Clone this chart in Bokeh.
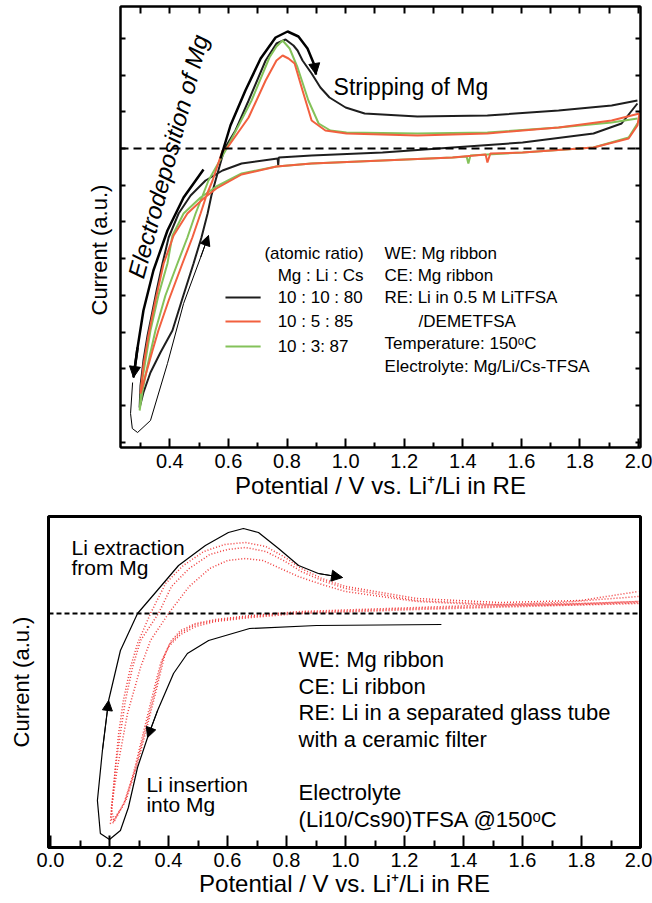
import math
from bokeh.plotting import figure
from bokeh.models import Range1d, LinearAxis, FixedTicker, Span, Arrow, NormalHead, Label, Title
from bokeh.embed import file_html
from bokeh.resources import INLINE

FONT = "Liberation Sans"

# ---------------- top panel data (potential V, current a.u.) ----------------
top_x_ticks = [0.4, 0.6, 0.8, 1.0, 1.2, 1.4, 1.6, 1.8, 2.0]
top_x_labels = ["0.4", "0.6", "0.8", "1.0", "1.2", "1.4", "1.6", "1.8", "2.0"]
top_x_minor = [0.3, 0.5, 0.7, 0.9, 1.1, 1.3, 1.5, 1.7, 1.9]
top_x_all = [0.3, 0.4, 0.5, 0.6, 0.7, 0.8, 0.9, 1.0, 1.1, 1.2, 1.3, 1.4, 1.5, 1.6, 1.7, 1.8, 1.9, 2.0]
top_y_ticks = [1.10, 0.73, 0.37, 0.0, -0.37, -0.73, -1.10, -1.47, -1.84, -2.20, -2.57, -2.94]

black_v = [1.996, 1.942, 1.846, 1.604, 1.365, 1.126, 0.884, 0.772, 0.770, 0.768, 0.645, 0.580, 0.522,
           0.471, 0.430, 0.396, 0.375, 0.355, 0.338, 0.324, 0.310, 0.300, 0.297,
           0.310, 0.334, 0.368, 0.409, 0.443, 0.481, 0.508, 0.529, 0.542, 0.556, 0.587, 0.624, 0.669,
           0.727, 0.764, 0.795, 0.822, 0.836, 0.853, 0.884, 0.914, 0.945, 1.000, 1.065, 1.245, 1.484,
           1.727, 1.908, 1.996]
black_i = [0.45, 0.25, 0.15, 0.06, 0.01, -0.04, -0.07, -0.09, -0.17, -0.10, -0.15, -0.22, -0.32,
           -0.47, -0.65, -0.89, -1.15, -1.42, -1.67, -1.87, -2.12, -2.37, -2.59,
           -2.44, -2.24, -2.04, -1.82, -1.50, -1.15, -0.89, -0.65, -0.47, -0.32, 0.00, 0.18, 0.48,
           0.88, 1.05, 1.09, 1.03, 0.98, 0.88, 0.75, 0.61, 0.51, 0.41, 0.35, 0.32, 0.33,
           0.38, 0.43, 0.48]

green_v = [1.996, 1.966, 1.846, 1.604, 1.484, 1.426, 1.419, 1.413, 1.365, 1.126, 0.884, 0.764, 0.645,
           0.559, 0.505, 0.447, 0.409, 0.392, 0.361, 0.334, 0.317, 0.303, 0.297,
           0.307, 0.324, 0.351, 0.385, 0.426, 0.460, 0.488, 0.512, 0.532, 0.594, 0.679, 0.740, 0.764,
           0.785, 0.809, 0.836, 0.873, 0.908, 0.948, 1.003, 1.245, 1.484, 1.727, 1.908, 1.996]
green_i = [0.25, 0.11, 0.01, -0.04, -0.06, -0.07, -0.15, -0.08, -0.09, -0.12, -0.15, -0.18, -0.25,
           -0.38, -0.49, -0.65, -0.87, -1.15, -1.47, -1.82, -2.12, -2.37, -2.62,
           -2.42, -2.17, -1.82, -1.47, -1.15, -0.89, -0.65, -0.47, -0.32, 0.00, 0.48, 0.91, 1.02,
           1.08, 1.00, 0.81, 0.48, 0.25, 0.18, 0.16, 0.15, 0.16, 0.21, 0.26, 0.30]

red_v = [2.003, 1.996, 1.966, 1.846, 1.604, 1.494, 1.484, 1.478, 1.365, 1.126, 0.884, 0.764, 0.645,
         0.559, 0.515, 0.460, 0.413, 0.379, 0.351, 0.327, 0.310, 0.300,
         0.317, 0.341, 0.361, 0.396, 0.443, 0.477, 0.505, 0.525, 0.546, 0.580, 0.597, 0.669, 0.727,
         0.764, 0.785, 0.805, 0.826, 0.853, 0.884, 0.931, 1.003, 1.245, 1.484, 1.727, 1.908, 2.003]
red_i = [0.35, 0.23, 0.10, 0.01, -0.04, -0.05, -0.14, -0.06, -0.09, -0.12, -0.15, -0.18, -0.26,
         -0.40, -0.50, -0.65, -0.87, -1.15, -1.52, -1.87, -2.17, -2.45,
         -2.27, -2.02, -1.82, -1.52, -1.15, -0.89, -0.65, -0.47, -0.32, -0.02, 0.01, 0.31, 0.68,
         0.88, 0.93, 0.90, 0.85, 0.58, 0.28, 0.18, 0.15, 0.13, 0.15, 0.21, 0.28, 0.35]

series_names = ["10 : 10 : 80", "10 : 5 : 85", "10 : 3: 87"]
series_colors = ["#1e1e1e", "#f2603f", "#84c25a"]

# annotation paths (top)
strip_v = [0.573, 0.607, 0.658, 0.710, 0.761, 0.802, 0.839, 0.870, 0.894, 0.899]
strip_i = [-0.10, 0.23, 0.58, 0.90, 1.11, 1.17, 1.12, 1.00, 0.83, 0.74]
depo_v = [0.515, 0.447, 0.392, 0.344, 0.310, 0.290, 0.276]
depo_i = [-0.21, -0.49, -0.82, -1.22, -1.62, -1.99, -2.29]
loop_v = [0.273, 0.266, 0.272, 0.290, 0.334, 0.392, 0.447, 0.505, 0.532]
loop_i = [-2.34, -2.65, -2.80, -2.84, -2.72, -2.15, -1.55, -1.09, -0.87]

# ---------------- bottom panel data ----------------
bot_x_ticks = [0.0, 0.2, 0.4, 0.6, 0.8, 1.0, 1.2, 1.4, 1.6, 1.8, 2.0]
bot_x_labels = ["0.0", "0.2", "0.4", "0.6", "0.8", "1.0", "1.2", "1.4", "1.6", "1.8", "2.0"]
bot_x_minor = [0.1, 0.3, 0.5, 0.7, 0.9, 1.1, 1.3, 1.5, 1.7, 1.9]

cyc1_v = [1.993, 1.729, 1.241, 0.847, 0.678, 0.559, 0.492, 0.441, 0.410, 0.387, 0.360, 0.330, 0.295, 0.258, 0.214,
          0.203, 0.210, 0.220, 0.231, 0.247, 0.271, 0.295, 0.339, 0.390, 0.450, 0.520, 0.590, 0.661, 0.730,
          0.790, 0.850, 0.920, 1.000, 1.241, 1.525, 1.797, 1.993]
cyc1_i = [0.17, 0.11, 0.06, 0.02, -0.02, -0.06, -0.10, -0.17, -0.27, -0.42, -0.75, -1.10, -1.50, -1.85, -2.09,
          -2.10, -1.87, -1.54, -1.20, -0.87, -0.54, -0.30, 0.00, 0.30, 0.48, 0.62, 0.69, 0.71, 0.67,
          0.57, 0.45, 0.35, 0.27, 0.15, 0.11, 0.13, 0.22]
cyc2_v = [1.993, 1.729, 1.241, 0.847, 0.678, 0.559, 0.492, 0.441, 0.405, 0.380, 0.352, 0.322, 0.288, 0.252, 0.214,
          0.204, 0.220, 0.237, 0.254, 0.278, 0.305, 0.366, 0.410, 0.470, 0.540, 0.600, 0.661, 0.730, 0.790,
          0.850, 0.920, 1.000, 1.241, 1.525, 1.797, 1.993]
cyc2_i = [0.12, 0.09, 0.05, 0.01, -0.03, -0.07, -0.11, -0.19, -0.30, -0.46, -0.80, -1.15, -1.55, -1.88, -2.08,
          -2.05, -1.54, -1.20, -0.87, -0.54, -0.27, 0.00, 0.27, 0.45, 0.59, 0.64, 0.66, 0.62, 0.53,
          0.42, 0.33, 0.25, 0.13, 0.09, 0.10, 0.12]
cyc3_v = [1.993, 1.729, 1.241, 0.847, 0.678, 0.559, 0.492, 0.441, 0.400, 0.373, 0.343, 0.314, 0.281, 0.247, 0.214,
          0.206, 0.227, 0.261, 0.305, 0.339, 0.400, 0.470, 0.540, 0.600, 0.661, 0.720, 0.780, 0.840, 0.920,
          1.000, 1.241, 1.525, 1.797, 1.993]
cyc3_i = [0.10, 0.08, 0.04, 0.00, -0.04, -0.08, -0.13, -0.21, -0.33, -0.50, -0.85, -1.20, -1.60, -1.92, -2.06,
          -1.95, -1.54, -1.00, -0.54, -0.27, 0.00, 0.27, 0.45, 0.53, 0.55, 0.53, 0.45, 0.37, 0.29,
          0.22, 0.12, 0.08, 0.09, 0.11]

bloop_v = [1.325, 1.119, 0.902, 0.675, 0.536, 0.464, 0.417, 0.363, 0.329, 0.295, 0.264, 0.237, 0.200, 0.169,
           0.159, 0.176, 0.197, 0.237, 0.295, 0.356, 0.434, 0.525, 0.603, 0.654, 0.705, 0.773, 0.841, 0.908, 0.990]
bloop_i = [-0.11, -0.115, -0.12, -0.15, -0.27, -0.40, -0.60, -0.97, -1.24, -1.54, -1.94, -2.17, -2.26, -2.20,
           -1.87, -1.37, -0.87, -0.37, 0.00, 0.21, 0.48, 0.68, 0.81, 0.85, 0.81, 0.65, 0.48, 0.40, 0.36]


def lbl(p, x, y, text, size, align="left", baseline="middle", style="normal", angle=0.0):
    p.add_layout(Label(x=x, y=y, text=text, text_font=FONT, text_font_size=size,
                       text_align=align, text_baseline=baseline, text_font_style=style,
                       angle=angle, text_color="black"))


def arrowhead(p, xs, ys, i0, i1, size=10, width=1):
    p.add_layout(Arrow(end=NormalHead(size=size, fill_color="black", line_color="black", line_width=1),
                       x_start=xs[i0], y_start=ys[i0], x_end=xs[i1], y_end=ys[i1],
                       line_color="black", line_width=width))


def style_xaxis(ax, ticks, minor, labels, tick_in, minor_in, lw):
    ax.ticker = FixedTicker(ticks=ticks, minor_ticks=minor)
    ax.major_label_overrides = dict(zip(ticks, labels))
    ax.major_tick_in = tick_in
    ax.major_tick_out = 0
    ax.minor_tick_in = minor_in
    ax.minor_tick_out = 0
    ax.axis_line_width = lw
    ax.major_tick_line_width = 2
    ax.minor_tick_line_width = 2
    ax.major_label_text_font = FONT
    ax.major_label_text_font_size = "20px"
    ax.major_label_text_color = "black"
    ax.axis_label_text_font = FONT
    ax.axis_label_text_font_size = "24px"
    ax.axis_label_text_font_style = "normal"
    ax.axis_label_text_color = "black"


def style_yaxis(ax, minor, tick_len, lw, label, standoff):
    ax.ticker = FixedTicker(ticks=[], minor_ticks=minor)
    ax.minor_tick_in = tick_len
    ax.minor_tick_out = 0
    ax.minor_tick_line_width = 2
    ax.axis_line_width = lw
    if label:
        ax.axis_label = label
    ax.axis_label_text_font = FONT
    ax.axis_label_text_font_size = "22px"
    ax.axis_label_text_font_style = "normal"
    ax.axis_label_text_color = "black"
    ax.axis_label_standoff = standoff
    ax.major_label_standoff = 0


# ---------------- top figure ----------------
p1 = figure(width=652, height=508, x_range=Range1d(0.2317, 2.0065), y_range=Range1d(-2.99, 1.42),
            output_backend="svg", toolbar_location=None,
            min_border_left=120, min_border_right=12, min_border_top=6, min_border_bottom=61)
p1.grid.visible = False
p1.outline_line_color = "black"
p1.outline_line_width = 2

style_xaxis(p1.xaxis[0], top_x_ticks, top_x_minor, top_x_labels, 9, 5, 2)
p1.xaxis.axis_label = "Potential / V vs. Li\u207a/Li in RE"
p1.xaxis.major_label_standoff = 6
p1.xaxis.axis_label_standoff = 1

style_yaxis(p1.yaxis[0], top_y_ticks, 5, 2, None, 0)
p1.add_layout(Title(text="Current (a.u.)", align="left", offset=132, standoff=18,
                    text_font=FONT, text_font_size="22px", text_font_style="normal",
                    text_color="black"), "left")

ax_top = LinearAxis(ticker=FixedTicker(ticks=[], minor_ticks=top_x_all),
                    minor_tick_in=7, minor_tick_out=0, minor_tick_line_width=2, axis_line_width=2,
                    major_label_standoff=0)
p1.add_layout(ax_top, "above")
ax_right = LinearAxis(ticker=FixedTicker(ticks=[], minor_ticks=top_y_ticks),
                      minor_tick_in=5, minor_tick_out=0, minor_tick_line_width=2, axis_line_width=2,
                      major_label_standoff=0)
p1.add_layout(ax_right, "right")

p1.add_layout(Span(location=0, dimension="width", line_color="black", line_width=2, line_dash="8 5"))

for vs, cs, col in [(black_v, black_i, series_colors[0]), (green_v, green_i, series_colors[2]),
                    (red_v, red_i, series_colors[1])]:
    p1.line(vs, cs, line_color=col, line_width=2)

# annotation arrows
p1.line(strip_v, strip_i, line_color="black", line_width=2.5)
arrowhead(p1, strip_v, strip_i, len(strip_v) - 2, len(strip_v) - 1, size=11, width=2.5)
p1.line(depo_v, depo_i, line_color="black", line_width=2.5)
arrowhead(p1, depo_v, depo_i, len(depo_v) - 2, len(depo_v) - 1, size=11, width=2.5)
p1.line(loop_v, loop_i, line_color="black", line_width=1)
arrowhead(p1, loop_v, loop_i, len(loop_v) - 2, len(loop_v) - 1, size=10, width=1)

lbl(p1, 0.959, 0.62, "Stripping of Mg", "23px")
lbl(p1, 0.394, -0.08, "Electrodeposition of Mg", "24px", align="center", style="italic",
    angle=math.radians(75))

# legend
leg_y = [-1.49, -1.73, -1.98]
p1.segment(x0=[0.590] * 3, y0=leg_y, x1=[0.710] * 3, y1=leg_y, line_color=series_colors, line_width=2)
lbl(p1, 0.723, -1.05, "(atomic ratio)", "17px")
lbl(p1, 0.768, -1.27, "Mg : Li : Cs", "17px")
for yy, name in zip(leg_y, series_names):
    lbl(p1, 0.768, yy, name, "17px")
info_top = ["WE: Mg ribbon", "CE: Mg ribbon", "RE: Li in 0.5 M LiTFSA", "/DEMETFSA",
            "Temperature: 150\u1d52C", "Electrolyte: Mg/Li/Cs-TFSA"]
info_y = [-1.05, -1.27, -1.49, -1.73, -1.95, -2.18]
info_x = [1.133, 1.133, 1.133, 1.249, 1.133, 1.133]
for xx, yy, t in zip(info_x, info_y, info_top):
    lbl(p1, xx, yy, t, "17px")

# ---------------- bottom figure ----------------
p2 = figure(width=652, height=395, x_range=Range1d(-0.0068, 2.0), y_range=Range1d(-2.34, 0.97),
            output_backend="svg", toolbar_location=None,
            min_border_left=48, min_border_right=12, min_border_top=8, min_border_bottom=56)
p2.grid.visible = False
p2.outline_line_color = "black"
p2.outline_line_width = 3
style_yaxis(p2.yaxis[0], [], 0, 3, "Current (a.u.)", 15)
style_xaxis(p2.xaxis[0], bot_x_ticks, bot_x_minor, bot_x_labels, 12, 7, 3)
p2.xaxis.axis_label = "Potential / V vs. Li\u207a/Li in RE"
p2.xaxis.major_label_standoff = 5
p2.xaxis.axis_label_standoff = 0

p2.add_layout(Span(location=0, dimension="width", line_color="black", line_width=2, line_dash="5 3"))

for vs, cs in [(cyc1_v, cyc1_i), (cyc2_v, cyc2_i), (cyc3_v, cyc3_i)]:
    p2.line(vs, cs, line_color="#f03c3c", line_width=1.5, line_dash="1 2")

p2.line(bloop_v, bloop_i, line_color="black", line_width=1.2)
arrowhead(p2, bloop_v, bloop_i, 7, 8, size=10)
arrowhead(p2, bloop_v, bloop_i, 15, 16, size=10)
arrowhead(p2, bloop_v, bloop_i, len(bloop_v) - 2, len(bloop_v) - 1, size=11)

lbl(p2, 0.071, 0.66, "Li extraction", "21px", baseline="alphabetic")
lbl(p2, 0.071, 0.46, "from Mg", "21px", baseline="alphabetic")
lbl(p2, 0.325, -1.71, "Li insertion", "21px", baseline="alphabetic")
lbl(p2, 0.325, -1.91, "into Mg", "21px", baseline="alphabetic")

info_bot = ["WE: Mg ribbon", "CE: Li ribbon", "RE: Li in a separated glass tube", "with a ceramic filter",
            "Electrolyte", "(Li10/Cs90)TFSA @150\u1d52C"]
info_bot_y = [-0.46, -0.73, -0.99, -1.26, -1.79, -2.06]
for yy, t in zip(info_bot_y, info_bot):
    lbl(p2, 0.841, yy, t, "22px", baseline="alphabetic")

open("out.html", "w").write(file_html([p1, p2], INLINE))
